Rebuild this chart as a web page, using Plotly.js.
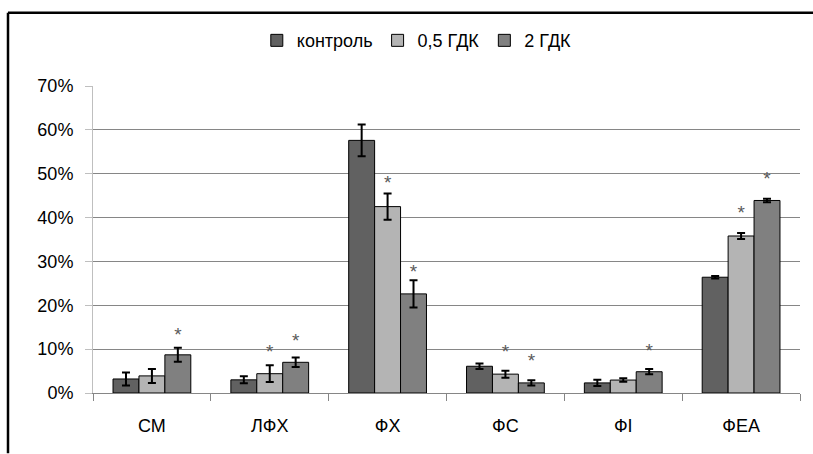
<!DOCTYPE html>
<html>
<head>
<meta charset="utf-8">
<script src="https://cdn.plot.ly/plotly-3.0.1.min.js"></script>
<style>html,body{margin:0;padding:0;background:#fff;}#chart{width:813px;height:454px;}</style>
</head>
<body>
<div id="chart"></div>
<script>
const categories = ["СМ", "ЛФХ", "ФХ", "ФС", "ФI", "ФЕА"];
const seriesNames = ["контроль", "0,5 ГДК", "2 ГДК"];
const control = [3.2, 3.0, 57.6, 6.1, 2.3, 26.4];
const controlErr = [1.5, 0.8, 3.6, 0.6, 0.7, 0.3];
const gdk05 = [3.9, 4.4, 42.5, 4.3, 2.95, 35.8];
const gdk05Err = [1.6, 1.9, 3.0, 0.8, 0.4, 0.7];
const gdk2 = [8.7, 7.0, 22.6, 2.3, 4.85, 43.9];
const gdk2Err = [1.6, 1.1, 3.1, 0.6, 0.6, 0.4];
const star05 = [null, 9.0, 47.5, 9.0, null, 40.7];
const star2 = [13.0, 11.6, 27.4, 7.0, 9.4, 48.6];
const yTicks = [0, 10, 20, 30, 40, 50, 60, 70];

const colors = ["#616161", "#b4b4b4", "#808080"];
const values = [control, gdk05, gdk2];
const errs = [controlErr, gdk05Err, gdk2Err];
const stars = [null, star05, star2];

const traces = [];
values.forEach((v, i) => {
  traces.push({
    type: "bar", name: seriesNames[i], x: categories, y: v,
    offsetgroup: "g" + i,
    marker: {color: colors[i], line: {color: "#000", width: 1}},
    error_y: {type: "data", array: errs[i], visible: true, color: "#000", thickness: 2, width: 4},
    hoverinfo: "skip"
  });
});
stars.forEach((s, i) => {
  if (!s) return;
  traces.push({
    type: "scatter", mode: "text", x: categories, y: s, text: s.map(v => v == null ? "" : "*"),
    offsetgroup: "g" + i, showlegend: false, hoverinfo: "skip",
    textposition: "middle center",
    textfont: {family: "Liberation Sans", size: 19, color: "#5a5a5a"}
  });
});

const x0 = 93, x1 = 800, yTop = 85.5, yBot = 393.5;
const px = p => (p - x0) / (x1 - x0);
const py = p => (yBot - p) / (yBot - yTop);
const fnt = {family: "Liberation Sans", size: 18, color: "#000"};

const layout = {
  width: 813, height: 454,
  margin: {l: x0, r: 813 - x1, t: yTop, b: 454 - yBot},
  paper_bgcolor: "#fff", plot_bgcolor: "#fff",
  barmode: "group", bargap: 0.34, bargroupgap: 0,
  scattermode: "group", scattergap: 0.34,
  font: fnt,
  showlegend: true,
  legend: {orientation: "h", x: 0.458, xanchor: "center", y: py(40), yanchor: "middle",
    font: fnt, itemwidth: 30, tracegroupgap: 0},
  xaxis: {type: "category", showgrid: false, showline: true, linecolor: "#868686", linewidth: 1,
    ticks: "outside", tickson: "boundaries", ticklen: 7, tickcolor: "#868686",
    ticklabelstandoff: 16,
    tickfont: fnt, zeroline: false, fixedrange: true},
  yaxis: {range: [0, 70], tickvals: yTicks, ticktext: yTicks.map(t => t + "%"),
    showgrid: true, gridcolor: "#868686", gridwidth: 1, showline: true, linecolor: "#bfbfbf",
    ticks: "outside", ticklen: 7, tickcolor: "#bfbfbf", zeroline: false,
    ticklabelstandoff: 8,
    tickfont: fnt, fixedrange: true},
  shapes: [
    {type: "line", xref: "paper", yref: "paper", x0: px(8), x1: px(813), y0: py(12), y1: py(12), line: {color: "#000", width: 2.5}},
    {type: "line", xref: "paper", yref: "paper", x0: px(8), x1: px(8), y0: py(12), y1: py(454), line: {color: "#000", width: 2.5}}
  ]
};

Plotly.newPlot("chart", traces, layout, {displayModeBar: false, staticPlot: true});
</script>
</body>
</html>
